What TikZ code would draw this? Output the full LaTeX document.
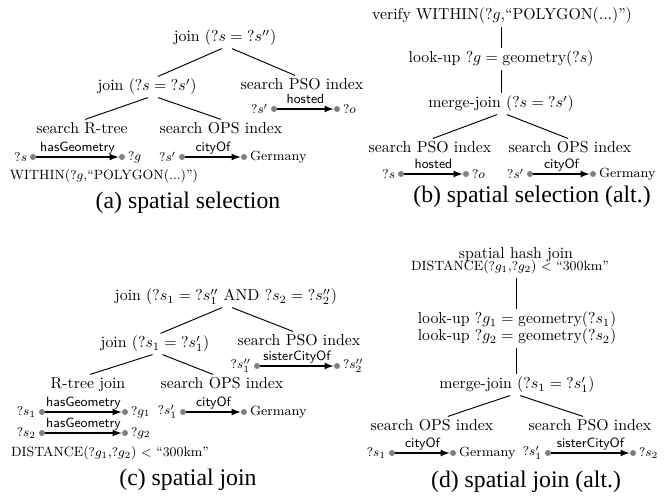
\documentclass[tikz,border=0pt]{standalone}
\usepackage{fontspec}
\newfontfamily\capfont{Liberation Serif}
\usetikzlibrary{arrows}

\newcommand{\qv}[1]{\mathord{?}#1}

\tikzset{
	op/.style={inner sep=1.5pt, text height=7.5pt, text depth=2.5pt},
	cond/.style={op, font=\fontsize{8.5}{10}\selectfont},
	tedge/.style={line width=0.6pt},
	tdot/.style={circle, fill=gray, inner sep=0pt, minimum size=3.8pt},
	tvar/.style={inner sep=1.5pt, font=\fontsize{8.4}{10}\selectfont},
	triple/.style={-latex, line width=1pt},
	elabel/.style={font=\sffamily\fontsize{8.5}{10}\selectfont, inner sep=1pt, text height=6pt, text depth=1.7pt},
	subcap/.style={font=\capfont\fontsize{15}{18}\selectfont}
}

\newcommand{\drawTriple}[6]{
	\node[tdot] (#1S) at (#2) {};
	\node[tdot] (#1O) at (#3) {};
	\node[tvar, anchor=east] (#1SL) at (#1S.west) {#5};
	\node[tvar, anchor=west] (#1OL) at (#1O.east) {#6};
	\draw[triple] (#1S) -- (#1O) node[midway, above, elabel] {#4};
}

\begin{document}
\begin{tikzpicture}[x=0.632pt, y=-0.632pt]
	\useasboundingbox (0,0) rectangle (670,498);

	% (a)
	\node[op] (aRoot) at (225,38) {join $(\qv{s} = \qv{s}'')$};
	\node[op] (aJoin) at (147,87) {join $(\qv{s} = \qv{s}')$};
	\node[op] (aPSO) at (302,86) {search PSO index};
	\node[op] (aRtree) at (82,130) {search R-tree};
	\node[op] (aOPS) at (221,130) {search OPS index};
	\draw[tedge] ([xshift=-2pt]aRoot.south) -- ([xshift=7pt]aJoin.north);
	\draw[tedge] ([xshift=4.4pt]aRoot.south) -- ([xshift=-4.4pt]aPSO.north);
	\draw[tedge] ([xshift=0.6pt]aJoin.south) -- ([xshift=2pt]aRtree.north);
	\draw[tedge] ([xshift=7pt]aJoin.south) -- (aOPS.north);
	\drawTriple{aHost}{274,109}{337,109}{hosted}{$\qv{s}'$}{$\qv{o}$}
	\drawTriple{aGeo}{33,157}{122,157}{hasGeometry}{$\qv{s}$}{$\qv{g}$}
	\drawTriple{aCity}{182,157}{244,157}{cityOf}{$\qv{s}'$}{Germany}
	\node[cond] (aWithin) at (104,176) {WITHIN($\qv{g}$,``POLYGON(...)'')};
	\node[subcap] (aCap) at (188,203) {(a) spatial selection};

	% (b)
	\node[op] (bVerify) at (502,16) {verify WITHIN($\qv{g}$,``POLYGON(...)'')};
	\node[op] (bLookup) at (501,59) {look-up $\qv{g} = \mathrm{geometry}(\qv{s})$};
	\node[op] (bMerge) at (501,104) {merge-join $(\qv{s} = \qv{s}')$};
	\node[op] (bPSO) at (430,149) {search PSO index};
	\node[op] (bOPS) at (570,149) {search OPS index};
	\draw[tedge] (bVerify.south -| bLookup.north) -- (bLookup.north);
	\draw[tedge] (bLookup.south) -- (bMerge.north -| bLookup.south);
	\draw[tedge] ([xshift=-2.5pt]bMerge.south) -- ([xshift=2pt]bPSO.north);
	\draw[tedge] ([xshift=3.8pt]bMerge.south) -- ([xshift=-1.3pt]bOPS.north);
	\drawTriple{bHost}{401,174}{466,174}{hosted}{$\qv{s}$}{$\qv{o}$}
	\drawTriple{bCity}{530,174}{593,174}{cityOf}{$\qv{s}'$}{Germany}
	\node[subcap] (bCap) at (532,197) {(b) spatial selection (alt.)};

	% (c)
	\node[op] (cRoot) at (226,297) {join $(\qv{s}_1 = \qv{s}_1''$ AND $\qv{s}_2 = \qv{s}_2'')$};
	\node[op] (cJoin) at (155,344) {join $(\qv{s}_1 = \qv{s}_1')$};
	\node[op] (cPSO) at (299,342) {search PSO index};
	\node[op] (cRtree) at (88,385) {R-tree join};
	\node[op] (cOPS) at (222,385) {search OPS index};
	\draw[tedge] ([xshift=-2.5pt]cRoot.south) -- ([xshift=3.5pt]cJoin.north);
	\draw[tedge] ([xshift=3.8pt]cRoot.south) -- ([xshift=-3.8pt]cPSO.north);
	\draw[tedge] ([xshift=-1.6pt]cJoin.south) -- ([xshift=1.3pt]cRtree.north);
	\draw[tedge] ([xshift=4.7pt]cJoin.south) -- ([xshift=-5.7pt]cOPS.north);
	\drawTriple{cSister}{257,366}{337,366}{sisterCityOf}{$\qv{s}_1''$}{$\qv{s}_2''$}
	\drawTriple{cGeoA}{42,412}{125,412}{hasGeometry}{$\qv{s}_1$}{$\qv{g}_1$}
	\drawTriple{cGeoB}{42,433}{125,433}{hasGeometry}{$\qv{s}_2$}{$\qv{g}_2$}
	\drawTriple{cCity}{183,412}{244,412}{cityOf}{$\qv{s}_1'$}{Germany}
	\node[cond] (cDist) at (110,453) {DISTANCE($\qv{g}_1$,$\qv{g}_2$) $<$ ``300km''};
	\node[subcap] (cCap) at (188,480) {(c) spatial join};

	% (d)
	\node[op] (dHash) at (516,255) {spatial hash join};
	\node[cond] (dDist) at (510,267) {DISTANCE($\qv{g}_1$,$\qv{g}_2$) $<$ ``300km''};
	\node[op] (dLookA) at (517,320) {look-up $\qv{g}_1 = \mathrm{geometry}(\qv{s}_1)$};
	\node[op] (dLookB) at (517,337) {look-up $\qv{g}_2 = \mathrm{geometry}(\qv{s}_2)$};
	\node[op] (dMerge) at (517,385) {merge-join $(\qv{s}_1 = \qv{s}_1')$};
	\node[op] (dOPS) at (432,427) {search OPS index};
	\node[op] (dPSO) at (590,427) {search PSO index};
	\draw[tedge] (dDist.south -| dHash.south) -- (dLookA.north -| dHash.south);
	\draw[tedge] (dLookB.south -| dHash.south) -- (dMerge.north -| dHash.south);
	\draw[tedge] ([xshift=-4.4pt]dMerge.south) -- ([xshift=10pt]dOPS.north);
	\draw[tedge] ([xshift=2pt]dMerge.south) -- ([xshift=-4.4pt]dPSO.north);
	\drawTriple{dCity}{392,453}{453,453}{cityOf}{$\qv{s}_1$}{Germany}
	\drawTriple{dSister}{548,453}{633,453}{sisterCityOf}{$\qv{s}_1'$}{$\qv{s}_2$}
	\node[subcap] (dCap) at (526,482) {(d) spatial join (alt.)};
\end{tikzpicture}
\end{document}
